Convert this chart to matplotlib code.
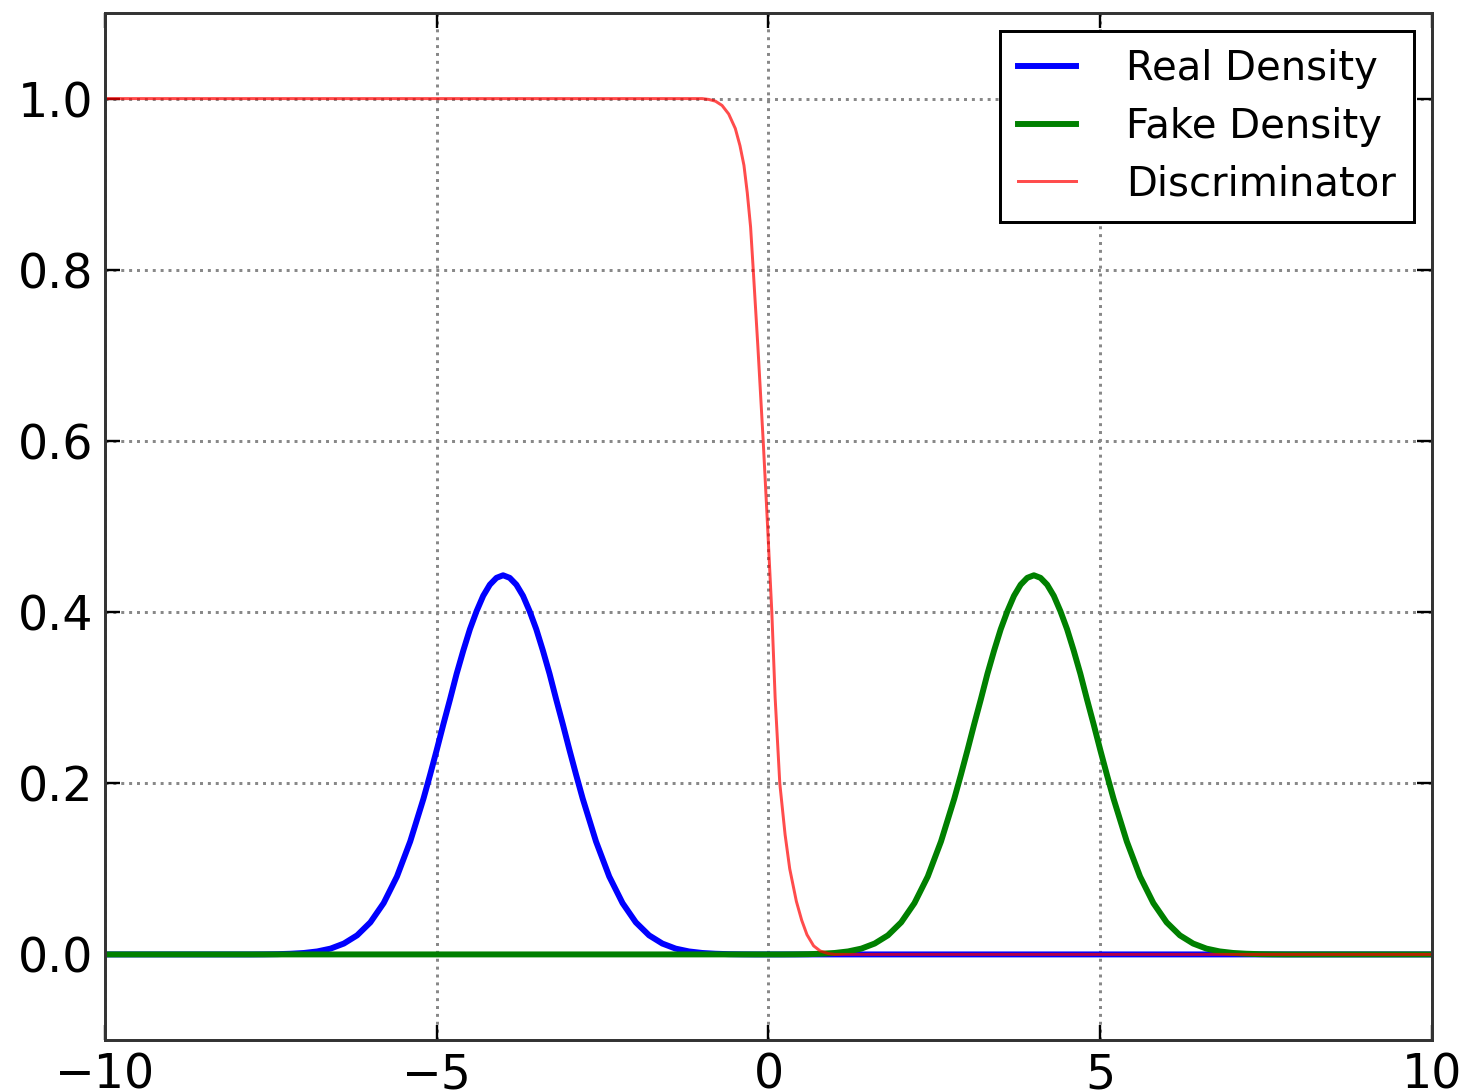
import matplotlib
matplotlib.use("Agg")
import matplotlib.pyplot as plt
import numpy as np

# values
real_x = [-10.0, -7.8, -7.6, -7.4, -7.2, -7.0, -6.8, -6.6, -6.4, -6.2, -6.0,
          -5.8, -5.6, -5.4, -5.2, -5.1, -5.0, -4.9, -4.8, -4.7, -4.6, -4.5,
          -4.4, -4.3, -4.2, -4.1, -4.0, -3.9, -3.8, -3.7, -3.6, -3.5, -3.4,
          -3.3, -3.2, -3.1, -3.0, -2.9, -2.8, -2.6, -2.4, -2.2, -2.0,
          -1.8, -1.6, -1.4, -1.2, -1.0, -0.8, -0.6, -0.4, -0.2, 10.0]
fake_x = [-10.0, 0.2, 0.4, 0.6, 0.8, 1.0, 1.2, 1.4, 1.6, 1.8, 2.0,
          2.2, 2.4, 2.6, 2.8, 2.9, 3.0, 3.1, 3.2, 3.3, 3.4, 3.5,
          3.6, 3.7, 3.8, 3.9, 4.0, 4.1, 4.2, 4.3, 4.4, 4.5, 4.6,
          4.7, 4.8, 4.9, 5.0, 5.1, 5.2, 5.4, 5.6, 5.8, 6.0,
          6.2, 6.4, 6.6, 6.8, 7.0, 7.2, 7.4, 7.6, 7.8, 10.0]
density_vals = [0.0, 0.0, 0.0001, 0.0003, 0.0008, 0.0017, 0.0035, 0.0068, 0.0127, 0.0223, 0.0375,
                0.060, 0.091, 0.132, 0.182, 0.210, 0.239, 0.269, 0.298, 0.328, 0.355, 0.380,
                0.401, 0.419, 0.432, 0.440, 0.443, 0.440, 0.432, 0.419, 0.401, 0.380, 0.355,
                0.328, 0.298, 0.269, 0.239, 0.210, 0.182, 0.132, 0.091, 0.060, 0.0375,
                0.0223, 0.0127, 0.0068, 0.0035, 0.0017, 0.0008, 0.0003, 0.0001, 0.0, 0.0]

disc_x = [-10.0, -1.0, -0.9, -0.8, -0.7, -0.6, -0.5, -0.43, -0.37, -0.32, -0.27,
          -0.23, -0.16, -0.08, -0.02, 0.05, 0.10, 0.17, 0.25, 0.32, 0.42,
          0.50, 0.58, 0.68, 0.78, 0.9, 1.0, 10.0]
disc_y = [1.0, 1.0, 0.999, 0.997, 0.992, 0.982, 0.965, 0.945, 0.922, 0.89, 0.85,
          0.80, 0.71, 0.60, 0.51, 0.40, 0.30, 0.20, 0.14, 0.10, 0.062,
          0.040, 0.023, 0.010, 0.004, 0.001, 0.0, 0.0]

x_ticks = [-10, -5, 0, 5, 10]
y_ticks = [0.0, 0.2, 0.4, 0.6, 0.8, 1.0]

dpi = 214
fig = plt.figure(figsize=(1465 / dpi, 1092 / dpi), dpi=dpi)
ax = fig.add_axes([105 / 1465, 1 - 1040 / 1092, 1327 / 1465, 1027 / 1092])

ax.plot(real_x, density_vals, color="#0000ff", lw=2, label="Real Density")
ax.plot(fake_x, density_vals, color="#008000", lw=2, label="Fake Density")
ax.plot(disc_x, disc_y, color="#ff0000", lw=1, alpha=0.7, label="Discriminator")

ax.set_xlim(-10, 10)
ax.set_ylim(-0.1, 1.1)
ax.set_xticks(x_ticks)
ax.set_yticks(y_ticks)
ax.set_yticklabels([f"{v:.1f}" for v in y_ticks])
ax.tick_params(direction="in", top=True, right=True, length=5, width=0.8,
               labelsize=16, pad=4)
ax.grid(True, color="#888888", linestyle=":", lw=1)
for s in ax.spines.values():
    s.set_linewidth(1)
    s.set_color("#333333")

leg = ax.legend(loc="upper right", fontsize=13.5, fancybox=False, framealpha=1,
                edgecolor="black", handlelength=1.45, handletextpad=1.25,
                labelspacing=0.44, borderpad=0.45, borderaxespad=0.45)
leg.get_frame().set_linewidth(1)

fig.savefig("out.png", dpi=dpi)
